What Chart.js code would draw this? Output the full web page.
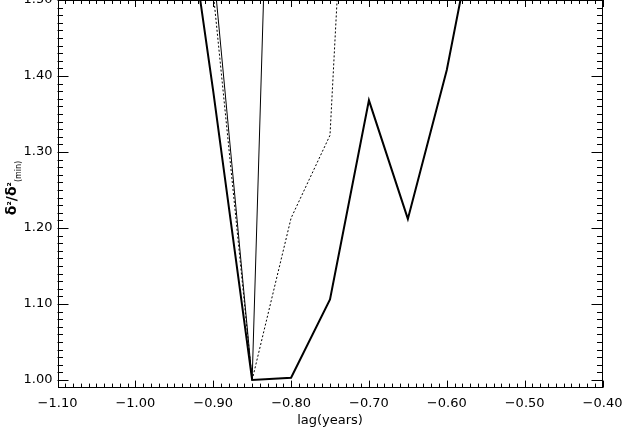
<!DOCTYPE html>
<html>
<head>
<meta charset="utf-8">
<script src="https://cdn.jsdelivr.net/npm/chart.js@4"></script>
<style>
  html, body { margin: 0; padding: 0; background: #fff; }
  #wrap { width: 622px; height: 428px; position: relative; }
</style>
</head>
<body>
<div id="wrap"><canvas id="grafico"></canvas></div>
<script>
// lags where the statistic was computed
var lags = [-0.95, -0.90, -0.85, -0.80, -0.75, -0.70, -0.65, -0.60, -0.55];

// normalised delta^2 for the three curves (values off the top are > 1.50)
var curvaGrossa = [1.74, 1.38, 1.000, 1.003, 1.106, 1.368, 1.212, 1.408, 1.67];
var curvaFina = [2.10, 1.545, 1.000, 2.71, null, null, null, null, null];
var curvaPontilhada = [2.00, 1.51, 1.000, 1.213, 1.322, 2.30, null, null, null];

var ticksX = [-1.10, -1.00, -0.90, -0.80, -0.70, -0.60, -0.50, -0.40];
var ticksY = [1.00, 1.10, 1.20, 1.30, 1.40, 1.50];

var fonte = '"DejaVu Sans", sans-serif';

function pontos(valores) {
  var lista = [];
  for (var i = 0; i < lags.length; i++) {
    lista.push({ x: lags[i], y: valores[i] });
  }
  return lista;
}

function rotulo(v) {
  return v.toFixed(2).replace('-', '\u2212');
}

// frame + inward ticks on all four sides, IDL style
var moldura = {
  id: 'moldura',
  afterDraw: function (chart) {
    var ctx = chart.ctx;
    var a = chart.chartArea;
    var sx = chart.scales.x;
    var sy = chart.scales.y;
    ctx.save();
    ctx.strokeStyle = '#000';
    ctx.lineWidth = 1;
    ctx.strokeRect(Math.round(a.left) + 0.5, Math.round(a.top) + 0.5,
      Math.round(a.right - a.left) - 1, Math.round(a.bottom - a.top) - 1);

    ctx.beginPath();
    var i, v, p, len;
    for (i = 0; i <= 70; i++) {
      v = -1.10 + i * 0.01;
      p = Math.round(sx.getPixelForValue(v)) + 0.5;
      len = (i % 10 == 0) ? 7 : 4;
      ctx.moveTo(p, a.bottom);
      ctx.lineTo(p, a.bottom - len);
      ctx.moveTo(p, a.top);
      ctx.lineTo(p, a.top + len);
    }
    for (i = 0; i <= 50; i++) {
      v = 1.00 + i * 0.01;
      p = Math.round(sy.getPixelForValue(v)) + 0.5;
      len = (i % 10 == 0) ? 11 : 5.5;
      ctx.moveTo(a.left, p);
      ctx.lineTo(a.left + len, p);
      ctx.moveTo(a.right, p);
      ctx.lineTo(a.right - len, p);
    }
    ctx.stroke();

    // y title: delta^2 / delta^2 (min), rotated
    ctx.translate(16, 188);
    ctx.rotate(-Math.PI / 2);
    ctx.fillStyle = '#000';
    ctx.textBaseline = 'alphabetic';
    var partes = [
      { t: '\u03b4', f: 'bold 14px ' + fonte, dy: 0 },
      { t: '\u00b2', f: 'bold 10px ' + fonte, dy: -1 },
      { t: '/', f: 'bold 14px ' + fonte, dy: 0 },
      { t: '\u03b4', f: 'bold 14px ' + fonte, dy: 0 },
      { t: '\u00b2', f: 'bold 10px ' + fonte, dy: -1 },
      { t: '(min)', f: '8px ' + fonte, dy: 5 }
    ];
    var total = 0;
    partes.forEach(function (q) { ctx.font = q.f; total += ctx.measureText(q.t).width; });
    var x = -total / 2;
    partes.forEach(function (q) {
      ctx.font = q.f;
      ctx.fillText(q.t, x, q.dy);
      x += ctx.measureText(q.t).width;
    });
    ctx.restore();
  }
};

var el = document.getElementById('grafico');

new Chart(el, {
  type: 'line',
  data: {
    datasets: [{
      label: 'grossa',
      data: pontos(curvaGrossa),
      borderColor: '#000',
      borderWidth: 2,
      pointRadius: 0,
      clip: 0
    }, {
      label: 'fina',
      data: pontos(curvaFina),
      borderColor: '#000',
      borderWidth: 1,
      pointRadius: 0,
      clip: 0
    }, {
      label: 'pontilhada',
      data: pontos(curvaPontilhada),
      borderColor: '#000',
      borderWidth: 1,
      borderDash: [2, 2],
      pointRadius: 0,
      clip: 0
    }]
  },
  options: {
    responsive: true,
    maintainAspectRatio: false,
    animation: false,
    events: [],
    layout: { autoPadding: false, padding: { top: 0, right: 19.5, left: 0, bottom: 0 } },
    plugins: {
      legend: { display: false },
      tooltip: { enabled: false }
    },
    scales: {
      x: {
        type: 'linear',
        min: -1.10,
        max: -0.40,
        grid: { display: false, drawTicks: false },
        border: { display: false },
        afterBuildTicks: function (s) { s.ticks = ticksX.map(function (v) { return { value: v }; }); },
        afterFit: function (s) {
          s.height = 40.4;
          s.paddingLeft = 0;
          s.paddingRight = 0;
        },
        ticks: {
          color: '#000',
          font: { family: fonte, size: 13 },
          padding: 8,
          maxRotation: 0,
          autoSkip: false,
          callback: function (v) { return rotulo(v); }
        },
        title: {
          display: true,
          text: 'lag(years)',
          color: '#000',
          font: { family: fonte, size: 13 },
          padding: { top: 0, bottom: 0 }
        }
      },
      y: {
        type: 'linear',
        min: 0.99,
        max: 1.50,
        grid: { display: false, drawTicks: false },
        border: { display: false },
        afterBuildTicks: function (s) { s.ticks = ticksY.map(function (v) { return { value: v }; }); },
        afterFit: function (s) {
          s.width = 57.5;
          s.paddingTop = 0;
          s.paddingBottom = 0;
        },
        ticks: {
          color: '#000',
          font: { family: fonte, size: 13 },
          padding: 5,
          autoSkip: false,
          callback: function (v) { return rotulo(v); }
        }
      }
    }
  },
  plugins: [moldura]
});
</script>
</body>
</html>
